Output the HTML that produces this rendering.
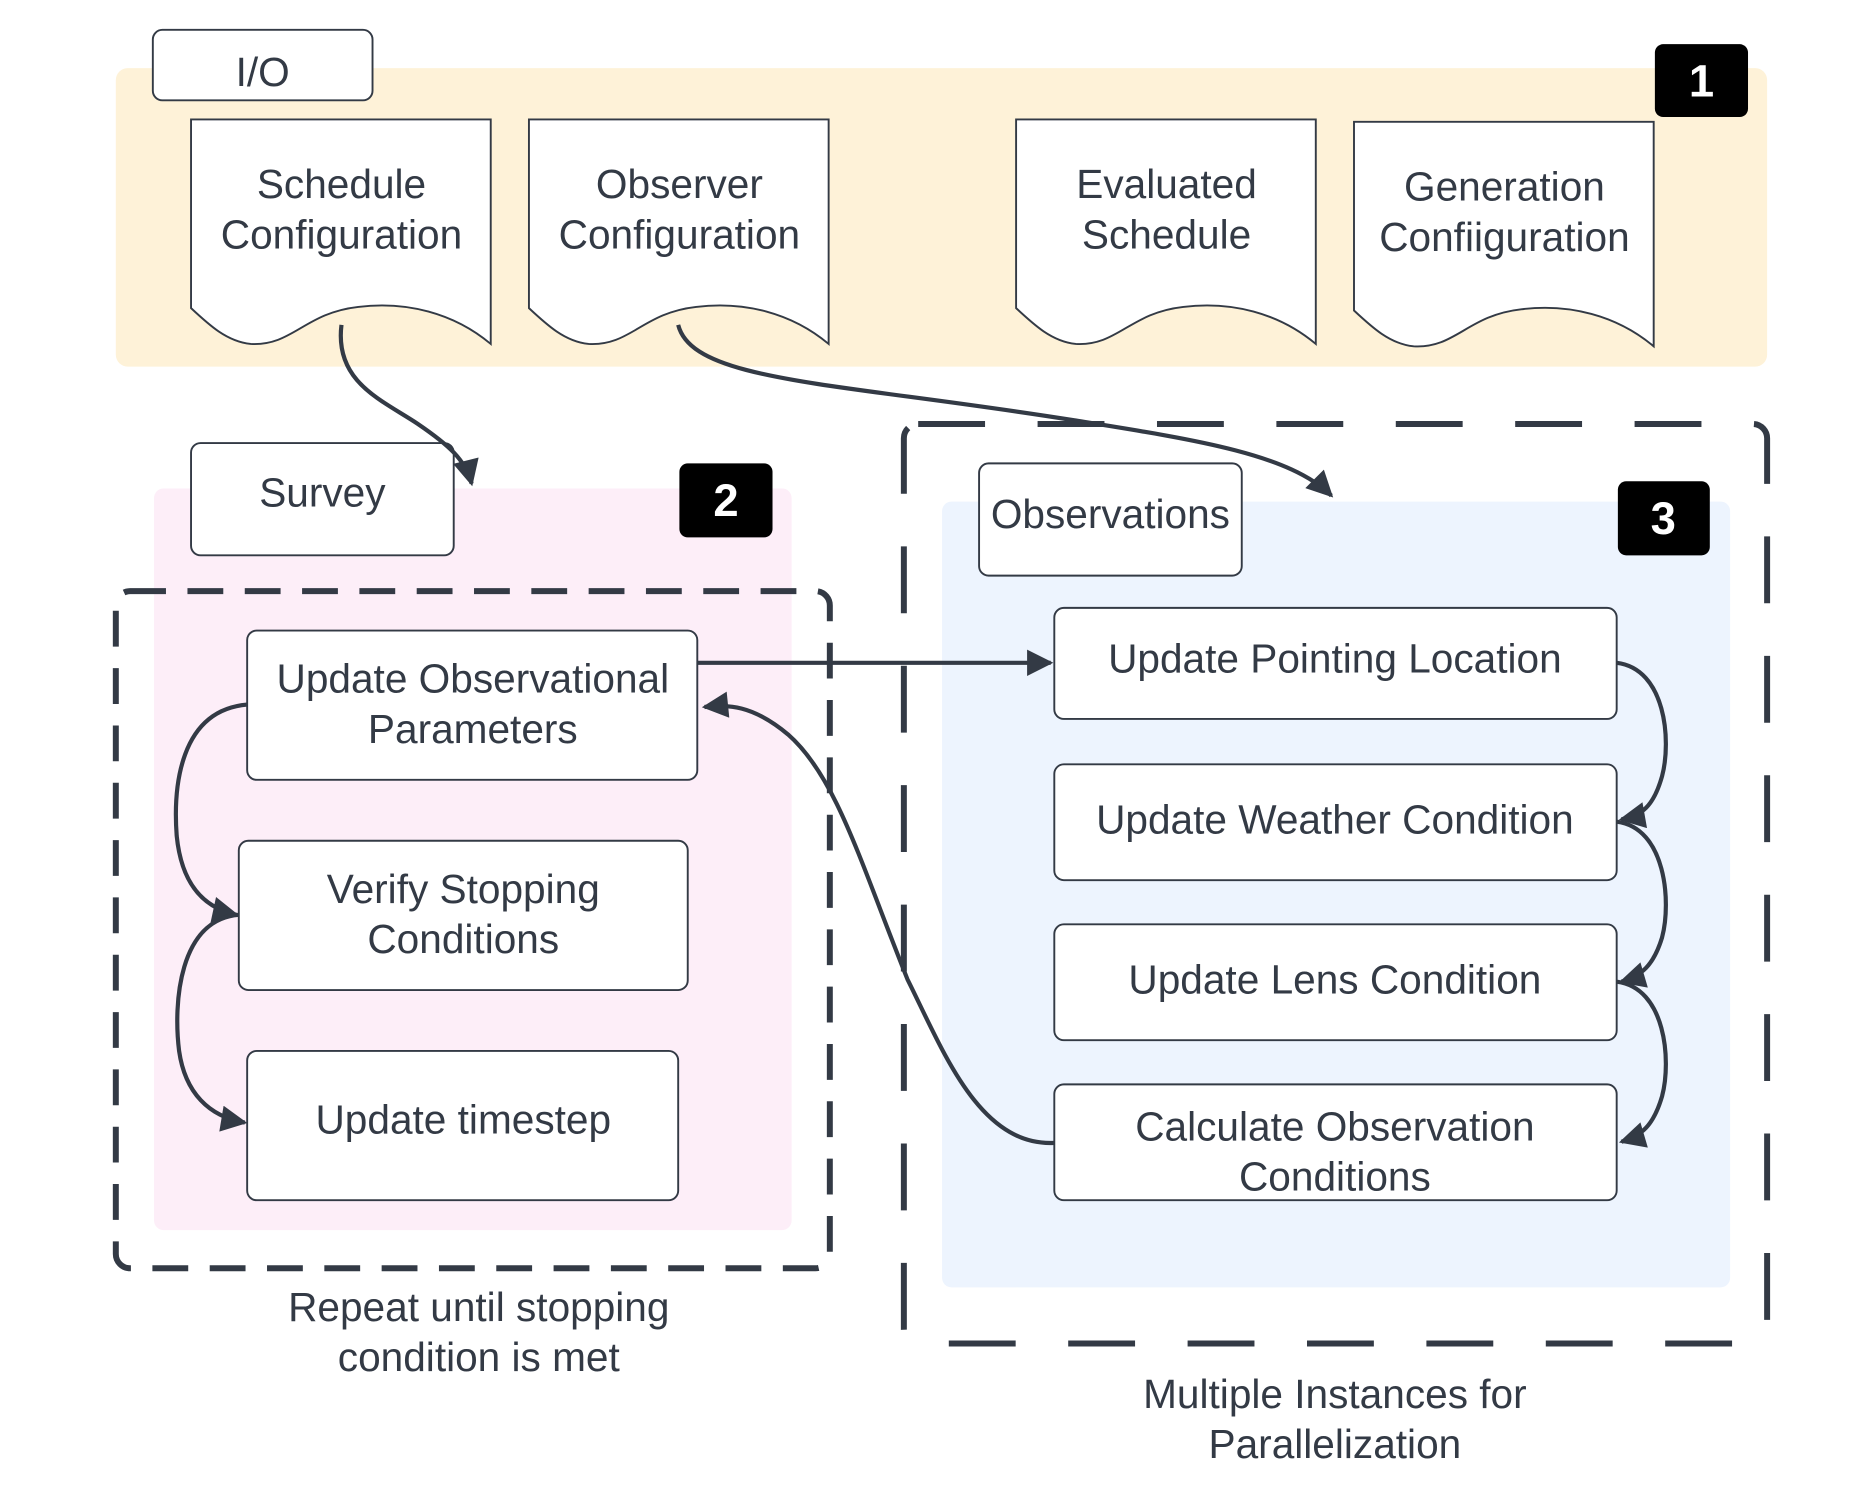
<!DOCTYPE html>
<html><head><meta charset="utf-8"><style>
html,body{margin:0;padding:0;background:#fff;}
svg{display:block;}
text{font-family:"Liberation Sans",sans-serif;fill:#333a45;font-size:34px;text-anchor:middle;}
</style></head><body>
<svg width="1871" height="1494" viewBox="0 0 1567 1251" preserveAspectRatio="none" xmlns="http://www.w3.org/2000/svg">
<defs>
<marker id="a" viewBox="0 0 10 10" refX="9" refY="5" markerWidth="26" markerHeight="22" markerUnits="userSpaceOnUse" orient="auto"><path d="M0,0 L10,5 L0,10 Z" fill="#333a45"/></marker>
</defs>
<g stroke="#333a45" stroke-width="1.6">
<rect x="97" y="57" width="1383" height="250" rx="10" fill="#fef2d8" stroke="none"/>
<rect x="129" y="409" width="534" height="621" rx="8" fill="#fdeef8" stroke="none"/>
<rect x="789" y="420" width="660" height="658" rx="8" fill="#edf4fe" stroke="none"/>
<rect x="97" y="495" width="598" height="567" rx="12" fill="none" stroke-width="5" stroke-dasharray="30 18"/>
<rect x="757" y="355" width="723" height="770" rx="12" fill="none" stroke-width="5" stroke-dasharray="56 44"/>
<rect x="128" y="25" width="184" height="59" rx="8" fill="#fff"/>
<rect x="160" y="371" width="220" height="94" rx="8" fill="#fff"/>
<rect x="820" y="388" width="220" height="94" rx="8" fill="#fff"/>
<rect x="207" y="528" width="377" height="125" rx="8" fill="#fff"/>
<rect x="200" y="704" width="376" height="125" rx="8" fill="#fff"/>
<rect x="207" y="880" width="361" height="125" rx="8" fill="#fff"/>
<rect x="883" y="509" width="471" height="93" rx="8" fill="#fff"/>
<rect x="883" y="640" width="471" height="97" rx="8" fill="#fff"/>
<rect x="883" y="774" width="471" height="97" rx="8" fill="#fff"/>
<rect x="883" y="908" width="471" height="97" rx="8" fill="#fff"/>
<path d="M160,100 H411 V288 C380,262 340,252 300,257 C255,262 245,290 210,288 C190,286 175,272 160,258 Z" fill="#fff"/>
<path d="M443,100 H694 V288 C663,262 623,252 583,257 C538,262 528,290 493,288 C473,286 458,272 443,258 Z" fill="#fff"/>
<path d="M851,100 H1102 V288 C1071,262 1031,252 991,257 C946,262 936,290 901,288 C881,286 866,272 851,258 Z" fill="#fff"/>
<path d="M1134,102 H1385 V290 C1354,264 1314,254 1274,259 C1229,264 1219,292 1184,290 C1164,288 1149,274 1134,260 Z" fill="#fff"/>
</g>
<rect x="1386" y="37" width="78" height="61" rx="7" fill="#000"/>
<rect x="569" y="388" width="78" height="62" rx="7" fill="#000"/>
<rect x="1355" y="403" width="77" height="62" rx="7" fill="#000"/>
<text x="1425" y="81" style="fill:#fff;font-weight:bold;font-size:38px">1</text>
<text x="608" y="432" style="fill:#fff;font-weight:bold;font-size:38px">2</text>
<text x="1393" y="447" style="fill:#fff;font-weight:bold;font-size:38px">3</text>
<g fill="none" stroke="#333a45" stroke-width="3.5">
<path d="M286,272 C280,320 320,335 350,355 C375,372 390,385 395,405" marker-end="url(#a)"/>
<path d="M568,272 C580,320 700,320 900,352 C1000,368 1080,380 1115,415" marker-end="url(#a)"/>
<path d="M584,555 H880" marker-end="url(#a)"/>
<path d="M883,957 C820,960 790,880 760,820 C720,720 700,650 660,615 C630,590 610,590 590,592" marker-end="url(#a)"/>
<path d="M207,590 C150,595 145,660 148,700 C152,740 170,760 198,766" marker-end="url(#a)"/>
<path d="M200,766 C150,770 145,840 150,880 C155,915 175,935 205,940" marker-end="url(#a)"/>
<path d="M1354,555 C1395,560 1400,620 1392,650 C1385,675 1375,683 1358,686" marker-end="url(#a)"/>
<path d="M1354,688 C1395,693 1400,755 1392,785 C1385,808 1375,817 1358,822" marker-end="url(#a)"/>
<path d="M1354,822 C1395,827 1400,888 1392,918 C1385,942 1375,951 1358,956" marker-end="url(#a)"/>
</g>
<text x="220" y="72">I/O</text>
<text x="286" y="166">Schedule</text><text x="286" y="208">Configuration</text>
<text x="569" y="166">Observer</text><text x="569" y="208">Configuration</text>
<text x="977" y="166">Evaluated</text><text x="977" y="208">Schedule</text>
<text x="1260" y="168">Generation</text><text x="1260" y="210">Confiiguration</text>
<text x="270" y="424">Survey</text>
<text x="930" y="442">Observations</text>
<text x="396" y="580">Update Observational</text><text x="396" y="622">Parameters</text>
<text x="388" y="756">Verify Stopping</text><text x="388" y="798">Conditions</text>
<text x="388" y="949">Update timestep</text>
<text x="1118" y="563">Update Pointing Location</text>
<text x="1118" y="698">Update Weather Condition</text>
<text x="1118" y="832">Update Lens Condition</text>
<text x="1118" y="955">Calculate Observation</text><text x="1118" y="997">Conditions</text>
<text x="401" y="1106">Repeat until stopping</text><text x="401" y="1148">condition is met</text>
<text x="1118" y="1179">Multiple Instances for</text><text x="1118" y="1221">Parallelization</text>
</svg>
</body></html>
